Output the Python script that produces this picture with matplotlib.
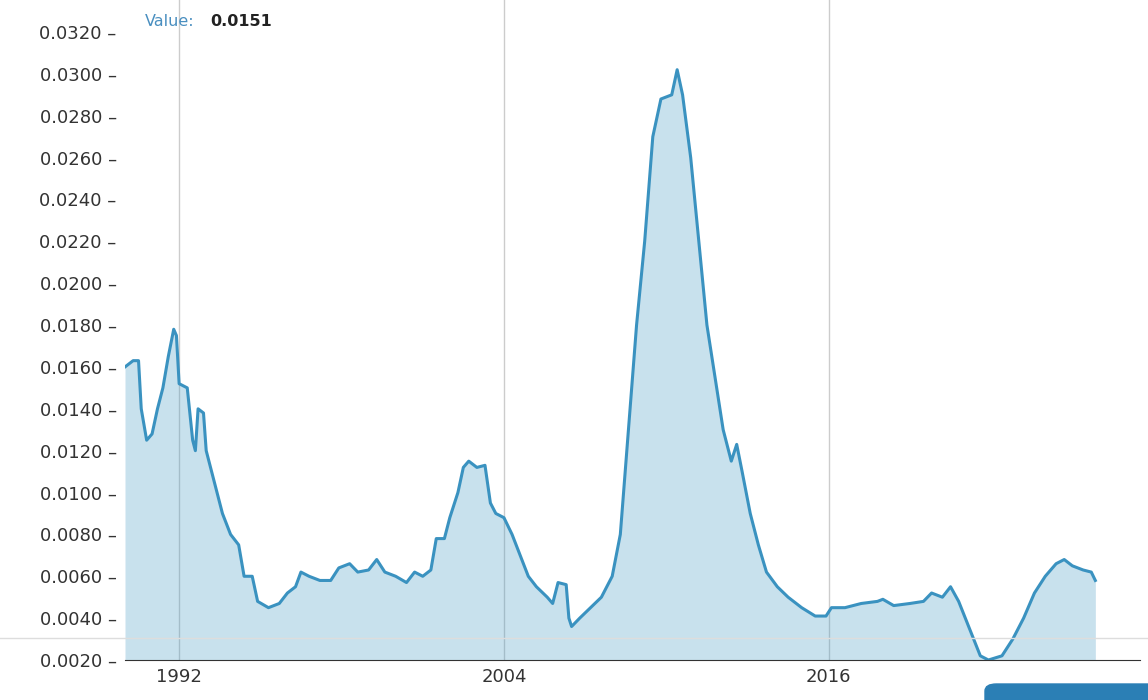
import matplotlib
matplotlib.use("Agg")
import matplotlib.pyplot as plt
from matplotlib.patches import FancyBboxPatch

years = [1990.0,1990.3,1990.5,1990.6,1990.8,1991.0,1991.2,1991.4,1991.6,1991.8,1991.9,1992.0,1992.3,1992.5,1992.6,1992.7,1992.9,1993.0,1993.3,1993.6,1993.9,1994.2,1994.4,1994.7,1994.9,1995.3,1995.7,1996.0,1996.3,1996.5,1996.8,1997.2,1997.6,1997.9,1998.3,1998.6,1999.0,1999.3,1999.6,2000.0,2000.4,2000.7,2001.0,2001.3,2001.5,2001.8,2002.0,2002.3,2002.5,2002.7,2003.0,2003.3,2003.5,2003.7,2004.0,2004.3,2004.6,2004.9,2005.2,2005.6,2005.8,2006.0,2006.3,2006.4,2006.5,2006.8,2007.2,2007.6,2008.0,2008.3,2008.6,2008.9,2009.2,2009.5,2009.8,2010.2,2010.4,2010.6,2010.9,2011.2,2011.5,2011.8,2012.1,2012.4,2012.6,2012.8,2013.1,2013.4,2013.7,2014.1,2014.5,2015.0,2015.5,2015.9,2016.1,2016.6,2017.2,2017.8,2018.0,2018.4,2019.0,2019.5,2019.8,2020.2,2020.5,2020.8,2021.2,2021.6,2021.9,2022.4,2022.8,2023.2,2023.6,2024.0,2024.4,2024.7,2025.0,2025.4,2025.7,2025.85]
values = [0.0160,0.0163,0.0163,0.0140,0.0125,0.0128,0.0140,0.0150,0.0165,0.0178,0.0175,0.0152,0.0150,0.0125,0.0120,0.0140,0.0138,0.0120,0.0105,0.0090,0.0080,0.0075,0.0060,0.0060,0.0048,0.0045,0.0047,0.0052,0.0055,0.0062,0.0060,0.0058,0.0058,0.0064,0.0066,0.0062,0.0063,0.0068,0.0062,0.0060,0.0057,0.0062,0.0060,0.0063,0.0078,0.0078,0.0088,0.0100,0.0112,0.0115,0.0112,0.0113,0.0095,0.0090,0.0088,0.0080,0.0070,0.0060,0.0055,0.0050,0.0047,0.0057,0.0056,0.0040,0.0036,0.0040,0.0045,0.0050,0.0060,0.0080,0.0130,0.0180,0.0220,0.0270,0.0288,0.0290,0.0302,0.0290,0.0260,0.0220,0.0180,0.0155,0.0130,0.0115,0.0123,0.0110,0.0090,0.0075,0.0062,0.0055,0.0050,0.0045,0.0041,0.0041,0.0045,0.0045,0.0047,0.0048,0.0049,0.0046,0.0047,0.0048,0.0052,0.0050,0.0055,0.0048,0.0035,0.0022,0.0020,0.0022,0.0030,0.0040,0.0052,0.0060,0.0066,0.0068,0.0065,0.0063,0.0062,0.0058]
yticks = [0.0020+0.0020*i for i in range(16)]
xticks = [1992, 2004, 2016]

fig = plt.figure(figsize=(11.48, 7.0), dpi=100)
ax = fig.add_axes([125/1148, 40/700, 1015/1148, 1 - 40/700])
ax.set_xlim(1990.0, 2027.5)
ax.set_ylim(0.0020, 0.03353)

ax.fill_between(years, values, 0.0020, color="#4a9cc5", alpha=0.3, lw=0)
ax.plot(years, values, color="#3a92c0", lw=2.2)

for x in xticks:
    ax.axvline(x, color="#cccccc", lw=1, zorder=0)
ax.set_xticks(xticks)
ax.set_xticklabels([str(x) for x in xticks], fontsize=13, color="#333333")
ax.set_yticks(yticks)
ax.set_yticklabels([f"{v:.4f} –" for v in yticks], fontsize=13, color="#333333")
ax.tick_params(length=0, pad=6)
for s in ax.spines.values():
    s.set_visible(False)
ax.spines["bottom"].set_visible(True)
ax.spines["bottom"].set_color("#333333")

fig.add_artist(plt.Line2D([0, 1], [62/700, 62/700], color="#dddddd", lw=1))
fig.text(145/1148, 1 - 22/700, "Value:", color="#4a8fc0", fontsize=11.5, va="center")
fig.text(210/1148, 1 - 22/700, "0.0151", color="#222222", fontsize=11.5, va="center", fontweight="bold")
fig.add_artist(FancyBboxPatch((985/1148, -0.02), 0.2, 30/700, boxstyle="round,pad=0,rounding_size=0.01",
                              transform=fig.transFigure, color="#2b7fb5"))
fig.savefig("out.png", dpi=100)
